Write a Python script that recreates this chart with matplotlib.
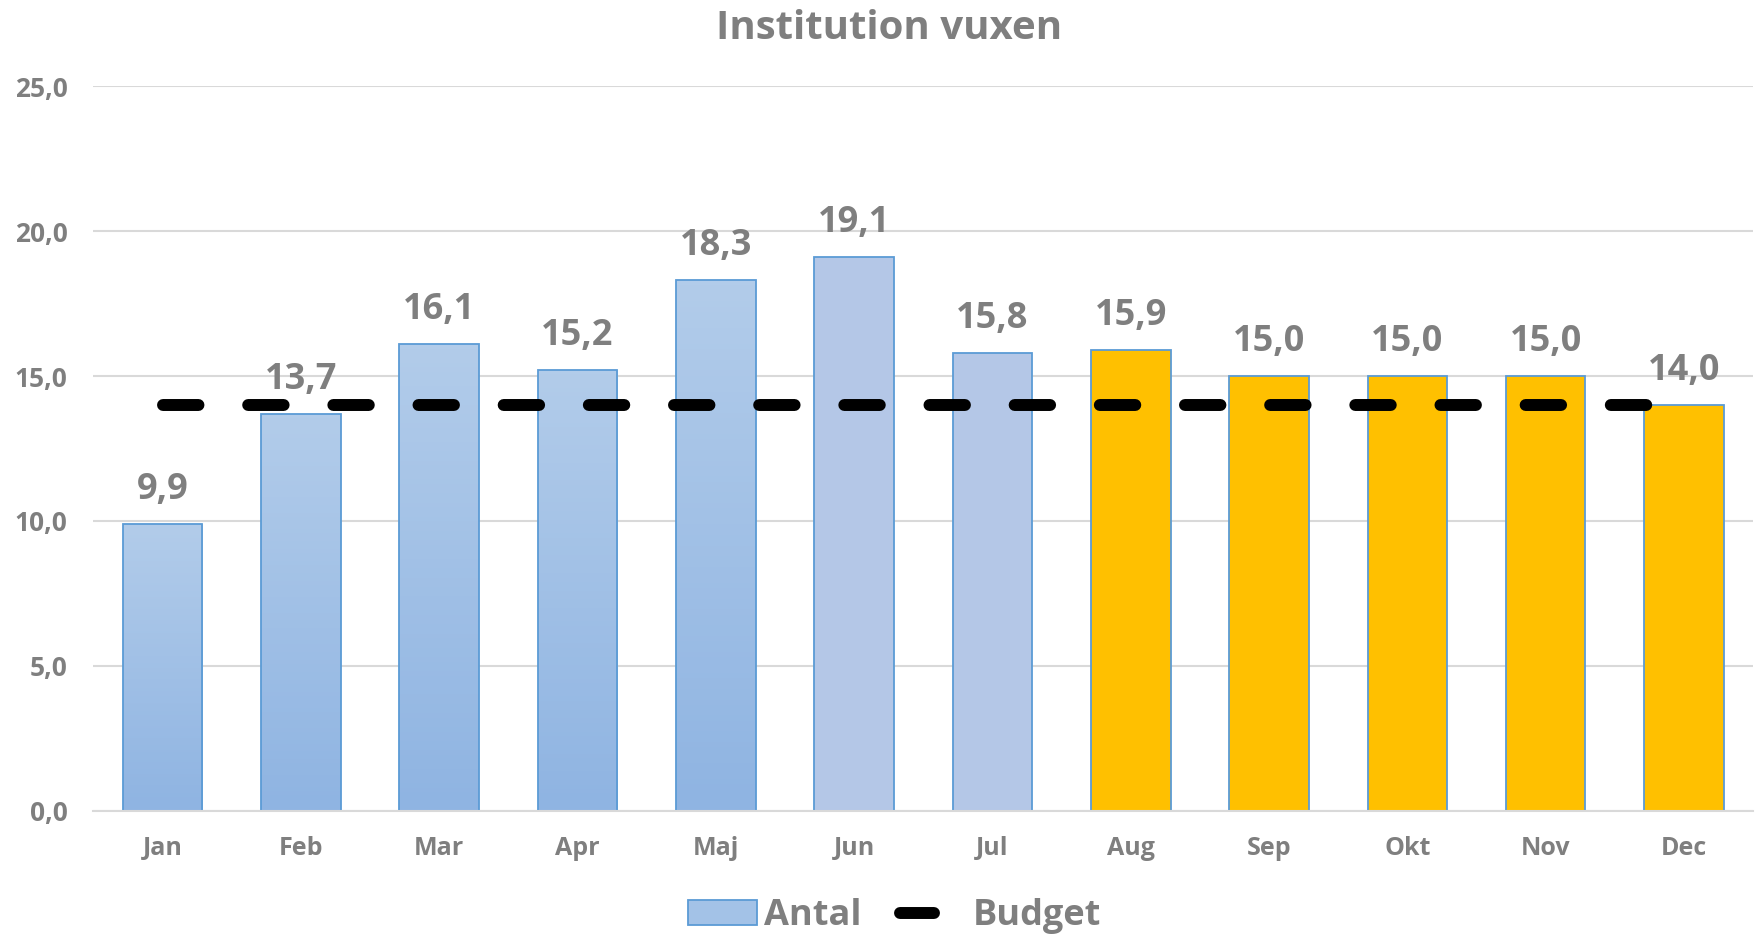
import numpy as np
import matplotlib
matplotlib.use("Agg")
import matplotlib.pyplot as plt
from matplotlib.patches import Patch
from matplotlib.lines import Line2D
from matplotlib.legend_handler import HandlerBase
from matplotlib.colors import LinearSegmentedColormap

months = ["Jan", "Feb", "Mar", "Apr", "Maj", "Jun", "Jul", "Aug", "Sep", "Okt", "Nov", "Dec"]
antal = [9.9, 13.7, 16.1, 15.2, 18.3, 19.1, 15.8, 15.9, 15.0, 15.0, 15.0, 14.0]
budget = [14.0, 14.0, 14.0, 14.0, 14.0, 14.0, 14.0, 14.0, 14.0, 14.0, 14.0, 14.0]
# 0 = gradient blue, 1 = flat light blue, 2 = forecast (gold)
kind = [0, 0, 0, 0, 0, 1, 1, 2, 2, 2, 2, 2]
yticks = [0, 5, 10, 15, 20, 25]

grey = "#7F7F7F"
edge = "#5B9BD5"
plt.rcParams['font.family'] = ['Open Sans', 'DejaVu Sans']

fig = plt.figure(figsize=(17.58, 9.34), dpi=100)
ax = fig.add_axes([93.4 / 1758, 123.4 / 934, (1753.2 - 93.4) / 1758, 0.7755])

x = np.arange(len(months))
grad = LinearSegmentedColormap.from_list("g", ["#8FB4E2", "#B2CCEA"])
bars = ax.bar(x, antal, width=0.575, edgecolor=edge, linewidth=1.3, zorder=2)
for b, k in zip(bars, kind):
    if k == 0:
        b.set_facecolor("none")
        x0, w, h = b.get_x(), b.get_width(), b.get_height()
        im = ax.imshow(np.linspace(0, 1, 100).reshape(-1, 1), cmap=grad, origin="lower",
                       extent=[x0, x0 + w, 0, h], aspect="auto", zorder=1.5)
        im.set_clip_path(b)
    elif k == 1:
        b.set_facecolor("#B4C7E7")
    else:
        b.set_facecolor("#FFC000")

ax.plot(x, budget, color="black", lw=8.6, dashes=(2.97, 4.16), dash_capstyle="round", zorder=3)

for xi, v in zip(x, antal):
    ax.annotate(f"{v:.1f}".replace(".", ","), (xi, v), xytext=(0, 18), textcoords="offset points",
                ha="center", va="baseline", fontsize=26, fontweight="bold", color=grey, zorder=4)

ax.set_xlim(-0.5, len(months) - 0.5)
ax.set_ylim(0, 25)
ax.set_yticks(yticks)
ax.set_yticklabels([f"{t:.1f}".replace(".", ",") for t in yticks])
ax.set_xticks(x)
ax.set_xticklabels(months)
ax.tick_params(axis="y", length=0, pad=18.5, labelsize=19, labelcolor=grey)
ax.tick_params(axis="x", length=0, pad=18, labelsize=18, labelcolor=grey)
for lab in ax.get_xticklabels() + ax.get_yticklabels():
    lab.set_fontweight("bold")
ax.grid(axis="y", color="#D9D9D9", lw=1.5, zorder=0)
ax.set_axisbelow(True)
for s in ["top", "right", "left"]:
    ax.spines[s].set_visible(False)
ax.spines["bottom"].set_color("#D9D9D9")
ax.spines["bottom"].set_linewidth(1.5)

fig.text(0.506, 0.970, "Institution vuxen", ha="center", va="center", fontsize=29,
         fontweight="bold", color=grey)


class ShortLine(HandlerBase):
    def create_artists(self, legend, orig, xdescent, ydescent, width, height, fontsize, trans):
        ln = Line2D([width * 0.06, width * 0.55], [height / 2, height / 2], color="black", lw=8.6,
                    solid_capstyle="round", transform=trans)
        return [ln]


h_antal = Patch(facecolor="#A3C2E7", edgecolor=edge, linewidth=1.3)
h_budget = Line2D([], [], color="black")
leg = fig.legend([h_antal, h_budget], ["Antal", "Budget"], loc="center", bbox_to_anchor=(0.5087, 0.019),
                 ncol=2, frameon=False, handler_map={h_budget: ShortLine()}, handlelength=1.92,
                 handleheight=0.7, handletextpad=0.2, columnspacing=0.95,
                 prop={"size": 26, "weight": "bold"})
for t in leg.get_texts():
    t.set_color(grey)

fig.savefig("out.png", dpi=100)
